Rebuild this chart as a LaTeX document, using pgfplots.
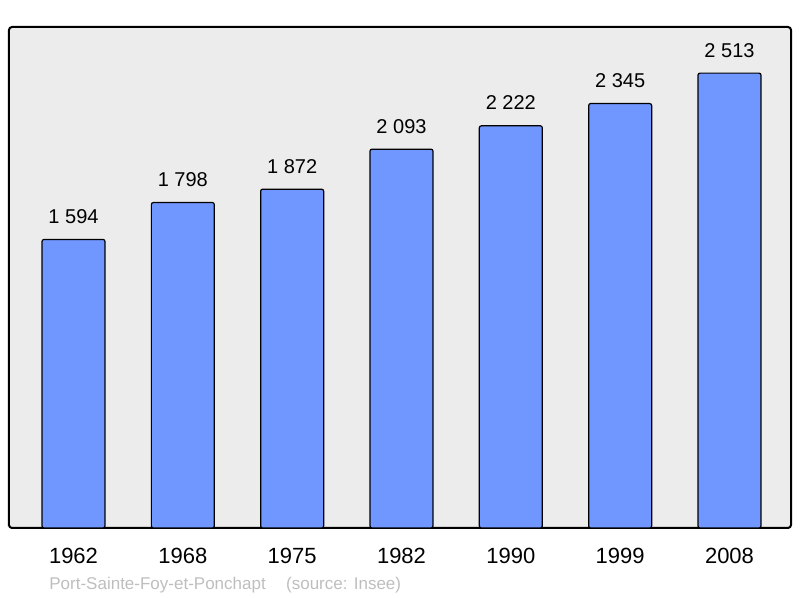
\documentclass[border=0pt]{standalone}
\usepackage{pgfplots}
\pgfplotsset{compat=1.18}
\usepackage{fontspec}
\setmainfont{Liberation Sans}
\definecolor{barblue}{RGB}{112,150,255}
\definecolor{panel}{RGB}{236,236,236}
\definecolor{srcgray}{RGB}{190,190,190}

\begin{document}
\begin{tikzpicture}
\useasboundingbox (0,0) rectangle (400pt,299pt);
\begin{axis}[
  at={(4.5pt,35pt)}, anchor=south west,
  scale only axis,
  width=391pt, height=250.5pt,
  xmin=-0.59, xmax=6.5625,
  ymin=0, ymax=2768,
  axis background/.style={fill=panel},
  axis line style={line width=1pt, rounded corners=1.5pt},
  xtick=data,
  xticklabels={1962,1968,1975,1982,1990,1999,2008},
  ytick=\empty,
  major tick length=0pt,
  xticklabel style={font=\fontsize{11}{13}\selectfont, anchor=base, yshift=-18pt},
  /pgf/number format/assume math mode=true,
  /pgf/number format/1000 sep={\ },
  ybar, bar width=0.576,
  nodes near coords,
  nodes near coords style={font=\fontsize{10}{12}\selectfont, anchor=base, yshift=8pt},
]
\addplot[fill=barblue, draw=black, line width=0.6pt, rounded corners=1pt]
  coordinates {(0,1594) (1,1798) (2,1872) (3,2093) (4,2222) (5,2345) (6,2513)};
\end{axis}
\node[anchor=base west, text=srcgray, font=\fontsize{8.5}{10}\selectfont, inner sep=0pt]
  at (24.5pt,4pt) {Port-Sainte-Foy-et-Ponchapt\hspace{1.2em}(source: Insee)};
\end{tikzpicture}
\end{document}
